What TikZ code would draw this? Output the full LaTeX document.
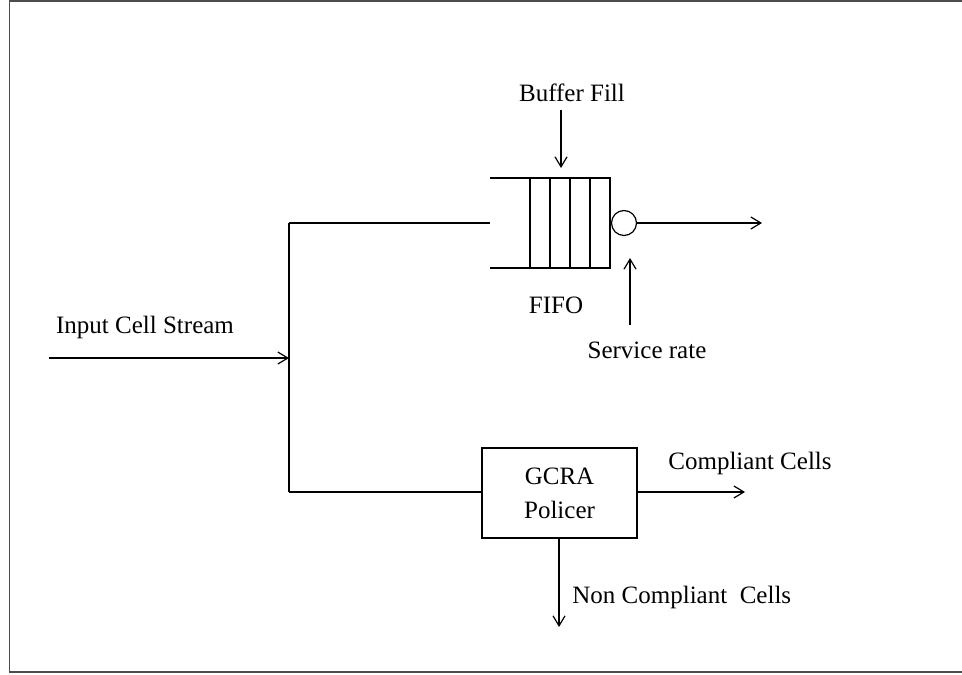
\documentclass[tikz,border=0pt]{standalone}
\usepackage{fontspec}
\setmainfont{Liberation Serif}
\usetikzlibrary{arrows.meta,%
                shapes,%
                positioning}

\begin{document}
\begin{tikzpicture}[x=0.5pt,y=-0.5pt,>={Straight Barb[length=5pt,width=6pt]},
    font=\fontsize{12.5}{17}\selectfont]
  \tikzstyle{ligne}=[draw=black, line width=0.6pt]
  \tikzstyle{cadre}=[draw=black!70, line width=0.6pt]
  \tikzstyle{boite}=[rectangle, draw=black, line width=0.6pt, minimum width=77.5pt, minimum height=45pt, align=center, inner sep=0pt]
  \tikzstyle{serveur}=[circle, draw=black, line width=0.6pt, minimum size=12.5pt, inner sep=0pt]
  \tikzstyle{etiquette}=[inner sep=1pt]
  \useasboundingbox (0,0) rectangle (962,674);
  % frame
  \draw[cadre] (962,1) -- (9.5,1) -- (9.5,672) -- (962,672);
  % input and split
  \coordinate (in) at (49,358);
  \coordinate (split) at (289,358);
  \coordinate (haut) at (289,223);
  \coordinate (bas) at (289,492);
  \node[etiquette] (input) at (145,327) {Input Cell Stream};
  \draw[ligne,->] (in) -- (split);
  \draw[ligne] (haut) -- (bas);
  % FIFO
  \coordinate (fifoin) at (490,223);
  \draw[ligne] (haut) -- (fifoin);
  \draw[ligne] (490,178) -- (610,178) -- (610,268) -- (490,268);
  \draw[ligne] (530,178) -- (530,268);
  \draw[ligne] (550,178) -- (550,268);
  \draw[ligne] (570,178) -- (570,268);
  \draw[ligne] (590,178) -- (590,268);
  \node[serveur] (srv) at (624,223) {};
  \coordinate (out) at (762,223);
  \draw[ligne,->] (srv) -- (out);
  \node[etiquette] (fifo) at (556,305) {FIFO};
  \node[etiquette] (bfill) at (572,93) {Buffer Fill};
  \coordinate (bfa) at (561,110);
  \coordinate (bfb) at (561,168);
  \draw[ligne,->] (bfa) -- (bfb);
  \node[etiquette] (srate) at (647,350) {Service rate};
  \coordinate (sra) at (630,325);
  \coordinate (srb) at (630,258);
  \draw[ligne,->] (sra) -- (srb);
  % policer
  \node[boite] (gcra) at (559.5,493) {GCRA\\Policer};
  \draw[ligne] (bas) -- (gcra.west |- bas);
  \coordinate (comp) at (745,492);
  \draw[ligne,->] (gcra.east |- comp) -- (comp);
  \node[etiquette, anchor=west] (complabel) at (666,463) {Compliant Cells};
  \coordinate (noncomp) at (559,627);
  \draw[ligne,->] (gcra.south -| noncomp) -- (noncomp);
  \node[etiquette, anchor=west] (nclabel) at (570,597) {Non Compliant\ \ Cells};
\end{tikzpicture}
\end{document}
